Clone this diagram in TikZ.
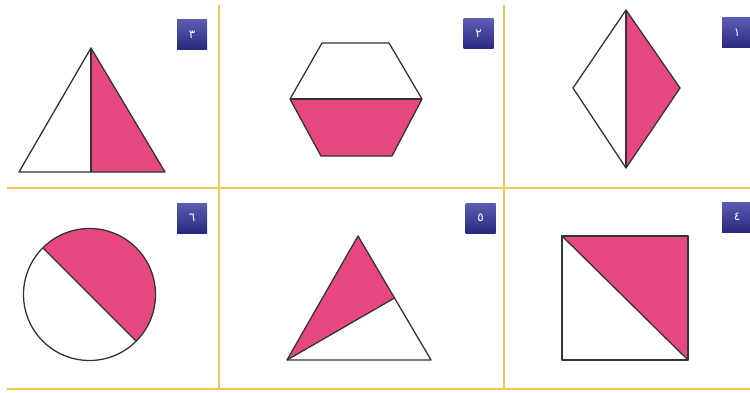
\documentclass[tikz,border=0pt]{standalone}
\usepackage{fontspec}
\newfontfamily\arabicfont[Script=Arabic]{DejaVu Sans}
\usetikzlibrary{calc}
\definecolor{gridyellow}{RGB}{240,200,80}
\definecolor{partpink}{RGB}{232,72,130}
\definecolor{badgetop}{RGB}{92,92,180}
\definecolor{badgebottom}{RGB}{40,40,125}

\begin{document}
\begin{tikzpicture}[x=1pt, y=1pt, every node/.style={font=\small},
    gridline/.style={gridyellow, line width=2.2pt},
    figline/.style={draw=black!80, line width=1.3pt, line join=round},
    part/.style={fill=partpink},
    badge/.style={minimum size=30pt, inner sep=0pt, top color=badgetop, bottom color=badgebottom,
                  text=white, font=\arabicfont\fontsize{12}{12}\selectfont}]
\useasboundingbox (0,0) rectangle (750,392);

\coordinate (h1l) at (7,204);   \coordinate (h1r) at (750,204);
\coordinate (h2l) at (7,3);     \coordinate (h2r) at (750,3);
\coordinate (v1t) at (219,387); \coordinate (v1b) at (219,3);
\coordinate (v2t) at (504,387); \coordinate (v2b) at (504,3);
\draw[gridline] (h1l) -- (h1r);
\draw[gridline] (h2l) -- (h2r);
\draw[gridline] (v1t) -- (v1b);
\draw[gridline] (v2t) -- (v2b);

\node[badge] (b1) at (737,359) {١};
\node[badge] (b2) at (478.5,358) {٢};
\node[badge] (b3) at (192,357.5) {٣};
\node[badge] (b4) at (737,175) {٤};
\node[badge] (b5) at (480.5,174) {٥};
\node[badge] (b6) at (192,174) {٦};

\begin{scope}
    \coordinate (r1t) at (626,382);
    \coordinate (r1l) at (573,304);
    \coordinate (r1r) at (680,304);
    \coordinate (r1b) at (626,224);
    \fill[part] (r1t) -- (r1r) -- (r1b) -- cycle;
    \draw[figline] (r1t) -- (r1l) -- (r1b) -- (r1r) -- cycle;
    \draw[figline] (r1t) -- (r1b);
\end{scope}

\begin{scope}
    \coordinate (x2tl) at (322,349);
    \coordinate (x2tr) at (389,349);
    \coordinate (x2ml) at (290,293);
    \coordinate (x2mr) at (422,293);
    \coordinate (x2bl) at (321,236);
    \coordinate (x2br) at (392,236);
    \fill[part] (x2ml) -- (x2mr) -- (x2br) -- (x2bl) -- cycle;
    \draw[figline] (x2tl) -- (x2tr) -- (x2mr) -- (x2br) -- (x2bl) -- (x2ml) -- cycle;
    \draw[figline] (x2ml) -- (x2mr);
\end{scope}

\begin{scope}
    \coordinate (t3a) at (91,344);
    \coordinate (t3l) at (19,220);
    \coordinate (t3r) at (165,220);
    \coordinate (t3m) at (91,220);
    \fill[part] (t3a) -- (t3m) -- (t3r) -- cycle;
    \draw[figline] (t3a) -- (t3l) -- (t3r) -- cycle;
    \draw[figline] (t3a) -- (t3m);
\end{scope}

\begin{scope}
    \coordinate (s4tl) at (562,156);
    \coordinate (s4tr) at (688,156);
    \coordinate (s4br) at (688,32);
    \coordinate (s4bl) at (562,32);
    \fill[part] (s4tl) -- (s4tr) -- (s4br) -- cycle;
    \draw[figline] (s4tl) -- (s4tr) -- (s4br) -- (s4bl) -- cycle;
    \draw[figline] (s4tl) -- (s4br);
\end{scope}

\begin{scope}
    \coordinate (t5a) at (358,156);
    \coordinate (t5l) at (287,32);
    \coordinate (t5r) at (431,32);
    \coordinate (t5c) at ($(t5a)!0.5!(t5r)$);
    \fill[part] (t5a) -- (t5l) -- (t5c) -- cycle;
    \draw[figline] (t5a) -- (t5l) -- (t5r) -- cycle;
    \draw[figline] (t5l) -- (t5c);
\end{scope}

\begin{scope}
    \coordinate (c6) at (89.5,97.5);
    \coordinate (c6a) at ($(c6)+(135:66)$);
    \coordinate (c6b) at ($(c6)+(-45:66)$);
    \fill[part] (c6a) arc[start angle=135, end angle=-45, radius=66] -- cycle;
    \draw[figline] (c6) circle[radius=66];
    \draw[figline] (c6a) -- (c6b);
\end{scope}
\end{tikzpicture}
\end{document}
